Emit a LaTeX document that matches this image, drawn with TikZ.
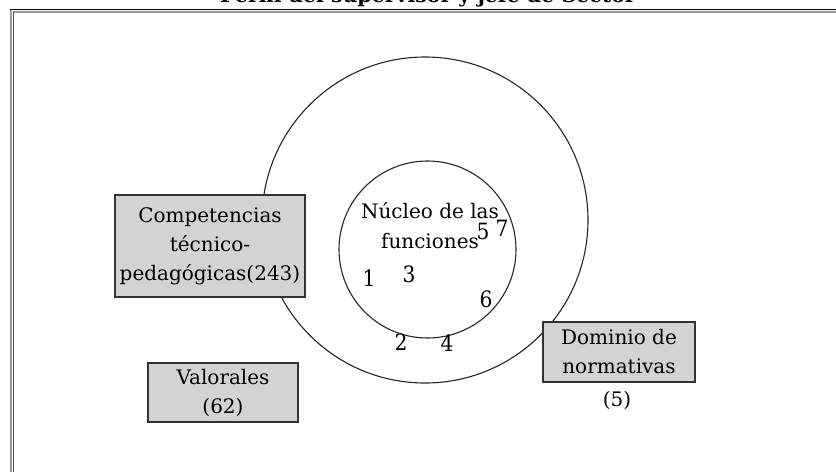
\documentclass[tikz,border=0pt]{standalone}
\usepackage{fontspec}
\setmainfont{DejaVu Serif}
\newfontfamily\numfont{DejaVu Serif Condensed}
\definecolor{boxfill}{HTML}{D3D3D3}
\definecolor{boxline}{HTML}{333333}
\definecolor{framegray}{HTML}{999999}
\begin{document}
\begin{tikzpicture}[x=1pt,y=-1pt,
  greybox/.style={draw=boxline, fill=boxfill, line width=1.2pt, inner sep=0pt, align=center,
    font=\fontsize{20}{29}\selectfont},
  ring/.style={draw=black!85, line width=1.1pt, circle, inner sep=0pt},
  plain/.style={inner sep=0pt, align=center, font=\fontsize{20}{30}\selectfont},
  num/.style={inner sep=0pt, font=\numfont\fontsize{22.5}{22.5}\selectfont}]
\useasboundingbox (0,0) rectangle (836,472);
\fill[white] (0,0) rectangle (836,472);
% frame
\draw[black, line width=1.2pt] (10,9.5) -- (836,9.5);
\draw[framegray, line width=1.2pt] (12.5,12) -- (836,12);
\draw[framegray, line width=2pt] (11,9.5) -- (11,472);
\draw[black!70, line width=1pt] (13.8,12) -- (13.8,472);
% title (cut at top, as in the reference)
\node[anchor=base, inner sep=0pt, font=\bfseries\fontsize{20.5}{20.5}\selectfont] (title) at (428,2.5) {Perfil del supervisor y jefe de Sector};
% circles
\node[ring, minimum size=326pt] (outer) at (425,220) {};
\node[ring, minimum size=177pt] (inner) at (427.5,249.5) {};
% inner labels
\node[plain] (nucleo) at (430,226) {Núcleo de las\\funciones};
\node[num] (n1) at (369,278) {1};
\node[num] (n3) at (409,274) {3};
\node[num] (n5) at (483,231) {5};
\node[num] (n7) at (502,228) {7};
\node[num] (n6) at (486,299) {6};
\node[num] (n2) at (401,342) {2};
\node[num] (n4) at (447,343) {4};
% boxes
\node[greybox, minimum width=190pt, minimum height=102pt] (comp) at (210,246) {Competencias\\técnico-\\pedagógicas(243)};
\node[greybox, minimum width=152pt, minimum height=60pt] (dom) at (619,352) {Dominio de\\normativas};
\node[plain] (dom5) at (617,400) {(5)};
\node[greybox, minimum width=150pt, minimum height=59pt] (val) at (223,392.5) {Valorales\\(62)};
\end{tikzpicture}
\end{document}
